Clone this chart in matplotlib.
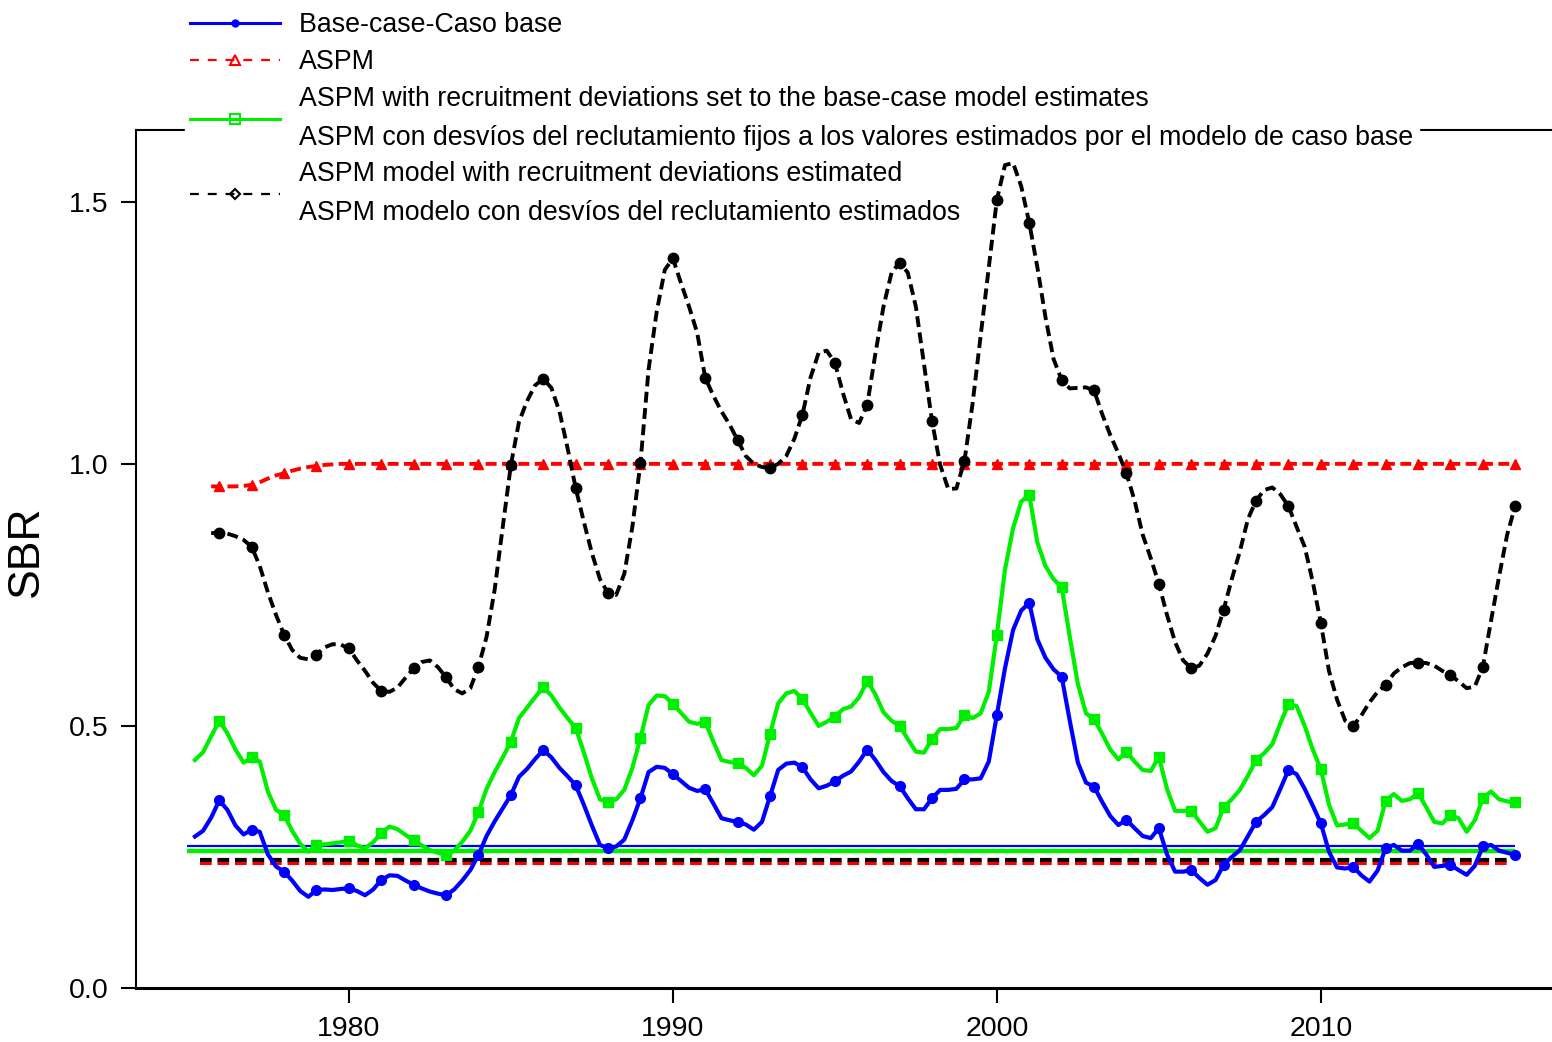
import numpy as np
import matplotlib
matplotlib.use("Agg")
import matplotlib.pyplot as plt
from matplotlib.lines import Line2D

plt.rcParams["font.family"] = ["Liberation Sans", "DejaVu Sans"]

# quarterly series, one row per year (Y.00, Y.25, Y.50, Y.75)
base_case = [
    0.289, 0.300, 0.325,                 # 1975 (from .25)
    0.358, 0.340, 0.310, 0.293,          # 1976
    0.302, 0.298, 0.255, 0.232,          # 1977
    0.222, 0.205, 0.185, 0.174,          # 1978
    0.187, 0.188, 0.187, 0.189,          # 1979
    0.190, 0.185, 0.177, 0.188,          # 1980
    0.206, 0.215, 0.214, 0.205,          # 1981
    0.197, 0.190, 0.184, 0.180,          # 1982
    0.177, 0.188, 0.205, 0.225,          # 1983
    0.254, 0.290, 0.318, 0.343,          # 1984
    0.368, 0.403, 0.418, 0.437,          # 1985
    0.454, 0.440, 0.420, 0.404,          # 1986
    0.387, 0.350, 0.310, 0.273,          # 1987
    0.267, 0.270, 0.283, 0.320,          # 1988
    0.362, 0.412, 0.422, 0.420,          # 1989
    0.408, 0.395, 0.382, 0.376,          # 1990
    0.379, 0.352, 0.324, 0.320,          # 1991
    0.317, 0.312, 0.302, 0.317,          # 1992
    0.366, 0.416, 0.428, 0.430,          # 1993
    0.421, 0.398, 0.381, 0.386,          # 1994
    0.394, 0.405, 0.413, 0.432,          # 1995
    0.455, 0.435, 0.412, 0.395,          # 1996
    0.385, 0.362, 0.341, 0.341,          # 1997
    0.362, 0.378, 0.378, 0.380,          # 1998
    0.398, 0.398, 0.400, 0.432,          # 1999
    0.521, 0.610, 0.683, 0.720,          # 2000
    0.735, 0.665, 0.630, 0.608,          # 2001
    0.594, 0.510, 0.430, 0.392,          # 2002
    0.384, 0.355, 0.328, 0.311,          # 2003
    0.321, 0.305, 0.290, 0.286,          # 2004
    0.305, 0.255, 0.222, 0.222,          # 2005
    0.225, 0.210, 0.197, 0.206,          # 2006
    0.235, 0.250, 0.263, 0.290,          # 2007
    0.317, 0.330, 0.345, 0.380,          # 2008
    0.416, 0.408, 0.380, 0.348,          # 2009
    0.314, 0.260, 0.230, 0.228,          # 2010
    0.231, 0.215, 0.203, 0.224,          # 2011
    0.267, 0.273, 0.262, 0.262,          # 2012
    0.275, 0.255, 0.231, 0.233,          # 2013
    0.235, 0.225, 0.216, 0.233,          # 2014
    0.270, 0.273, 0.262, 0.258,          # 2015
    0.254,                               # 2016
]

aspm_fixed_dev = [
    0.435, 0.450, 0.480,                 # 1975 (from .25)
    0.510, 0.486, 0.455, 0.430,          # 1976
    0.440, 0.432, 0.375, 0.340,          # 1977
    0.330, 0.300, 0.275, 0.260,          # 1978
    0.273, 0.274, 0.276, 0.278,          # 1979
    0.281, 0.272, 0.267, 0.278,          # 1980
    0.296, 0.308, 0.303, 0.292,          # 1981
    0.282, 0.272, 0.263, 0.258,          # 1982
    0.254, 0.262, 0.279, 0.300,          # 1983
    0.336, 0.380, 0.412, 0.440,          # 1984
    0.470, 0.515, 0.535, 0.555,          # 1985
    0.574, 0.558, 0.535, 0.515,          # 1986
    0.496, 0.450, 0.400, 0.360,          # 1987
    0.354, 0.360, 0.378, 0.420,          # 1988
    0.477, 0.540, 0.558, 0.557,          # 1989
    0.542, 0.525, 0.508, 0.504,          # 1990
    0.508, 0.470, 0.435, 0.431,          # 1991
    0.429, 0.420, 0.406, 0.424,          # 1992
    0.485, 0.543, 0.562, 0.567,          # 1993
    0.551, 0.525, 0.500, 0.508,          # 1994
    0.518, 0.532, 0.537, 0.555,          # 1995
    0.586, 0.560, 0.526, 0.510,          # 1996
    0.500, 0.475, 0.451, 0.449,          # 1997
    0.475, 0.494, 0.494, 0.496,          # 1998
    0.521, 0.515, 0.524, 0.565,          # 1999
    0.674, 0.798, 0.877, 0.928,          # 2000
    0.941, 0.850, 0.805, 0.780,          # 2001
    0.765, 0.670, 0.580, 0.524,          # 2002
    0.513, 0.485, 0.455, 0.436,          # 2003
    0.451, 0.432, 0.416, 0.414,          # 2004
    0.441, 0.380, 0.338, 0.338,          # 2005
    0.338, 0.318, 0.298, 0.305,          # 2006
    0.345, 0.360, 0.378, 0.405,          # 2007
    0.435, 0.448, 0.465, 0.505,          # 2008
    0.542, 0.538, 0.500, 0.455,          # 2009
    0.417, 0.350, 0.310, 0.312,          # 2010
    0.314, 0.300, 0.286, 0.300,          # 2011
    0.357, 0.370, 0.357, 0.360,          # 2012
    0.372, 0.345, 0.317, 0.314,          # 2013
    0.330, 0.324, 0.298, 0.320,          # 2014
    0.362, 0.375, 0.360, 0.356,          # 2015
    0.354,                               # 2016
]

aspm = [
    0.957,                               # 1975 (from .75)
    0.957, 0.957, 0.957, 0.958,          # 1976
    0.960, 0.965, 0.972, 0.978,          # 1977
    0.982, 0.987, 0.991, 0.994,          # 1978
    0.996, 0.998, 0.999, 1.000,          # 1979
    1.000, 1.000, 1.000, 1.000,          # 1980
    1.000, 1.000, 1.000, 1.000,          # 1981
    1.000, 1.000, 1.000, 1.000,          # 1982
    1.000, 1.000, 1.000, 1.000,          # 1983
    1.000, 1.000, 1.000, 1.000,          # 1984
    1.000, 1.000, 1.000, 1.000,          # 1985
    1.000, 1.000, 1.000, 1.000,          # 1986
    1.000, 1.000, 1.000, 1.000,          # 1987
    1.000, 1.000, 1.000, 1.000,          # 1988
    1.000, 1.000, 1.000, 1.000,          # 1989
    1.000, 1.000, 1.000, 1.000,          # 1990
    1.000, 1.000, 1.000, 1.000,          # 1991
    1.000, 1.000, 1.000, 1.000,          # 1992
    1.000, 1.000, 1.000, 1.000,          # 1993
    1.000, 1.000, 1.000, 1.000,          # 1994
    1.000, 1.000, 1.000, 1.000,          # 1995
    1.000, 1.000, 1.000, 1.000,          # 1996
    1.000, 1.000, 1.000, 1.000,          # 1997
    1.000, 1.000, 1.000, 1.000,          # 1998
    1.000, 1.000, 1.000, 1.000,          # 1999
    1.000, 1.000, 1.000, 1.000,          # 2000
    1.000, 1.000, 1.000, 1.000,          # 2001
    1.000, 1.000, 1.000, 1.000,          # 2002
    1.000, 1.000, 1.000, 1.000,          # 2003
    1.000, 1.000, 1.000, 1.000,          # 2004
    1.000, 1.000, 1.000, 1.000,          # 2005
    1.000, 1.000, 1.000, 1.000,          # 2006
    1.000, 1.000, 1.000, 1.000,          # 2007
    1.000, 1.000, 1.000, 1.000,          # 2008
    1.000, 1.000, 1.000, 1.000,          # 2009
    1.000, 1.000, 1.000, 1.000,          # 2010
    1.000, 1.000, 1.000, 1.000,          # 2011
    1.000, 1.000, 1.000, 1.000,          # 2012
    1.000, 1.000, 1.000, 1.000,          # 2013
    1.000, 1.000, 1.000, 1.000,          # 2014
    1.000, 1.000, 1.000, 1.000,          # 2015
    1.000,                               # 2016
]

aspm_est_dev = [
    0.868,                               # 1975 (from .75)
    0.868, 0.867, 0.862, 0.855,          # 1976
    0.842, 0.805, 0.755, 0.712,          # 1977
    0.674, 0.645, 0.630, 0.627,          # 1978
    0.636, 0.650, 0.656, 0.655,          # 1979
    0.648, 0.625, 0.605, 0.582,          # 1980
    0.567, 0.565, 0.573, 0.592,          # 1981
    0.610, 0.622, 0.625, 0.612,          # 1982
    0.593, 0.570, 0.562, 0.572,          # 1983
    0.613, 0.670, 0.760, 0.880,          # 1984
    0.998, 1.080, 1.120, 1.150,          # 1985
    1.162, 1.145, 1.100, 1.030,          # 1986
    0.954, 0.890, 0.830, 0.780,          # 1987
    0.753, 0.750, 0.790, 0.880,          # 1988
    1.002, 1.180, 1.290, 1.370,          # 1989
    1.392, 1.345, 1.300, 1.250,          # 1990
    1.164, 1.130, 1.100, 1.075,          # 1991
    1.045, 1.015, 1.000, 0.994,          # 1992
    0.992, 1.000, 1.015, 1.048,          # 1993
    1.094, 1.165, 1.212, 1.216,          # 1994
    1.193, 1.135, 1.085, 1.078,          # 1995
    1.113, 1.210, 1.300, 1.365,          # 1996
    1.384, 1.365, 1.300, 1.190,          # 1997
    1.081, 0.998, 0.952, 0.953,          # 1998
    1.006, 1.115, 1.245, 1.375,          # 1999
    1.504, 1.570, 1.574, 1.530,          # 2000
    1.460, 1.375, 1.280, 1.200,          # 2001
    1.160, 1.144, 1.145, 1.146,          # 2002
    1.140, 1.095, 1.055, 1.020,          # 2003
    0.982, 0.930, 0.865, 0.820,          # 2004
    0.771, 0.712, 0.660, 0.625,          # 2005
    0.610, 0.615, 0.638, 0.672,          # 2006
    0.722, 0.780, 0.833, 0.895,          # 2007
    0.930, 0.950, 0.955, 0.942,          # 2008
    0.919, 0.880, 0.842, 0.775,          # 2009
    0.696, 0.605, 0.550, 0.510,          # 2010
    0.500, 0.520, 0.545, 0.565,          # 2011
    0.578, 0.600, 0.612, 0.620,          # 2012
    0.621, 0.620, 0.615, 0.605,          # 2013
    0.597, 0.585, 0.572, 0.575,          # 2014
    0.613, 0.700, 0.785, 0.865,          # 2015
    0.920,                               # 2016
]

# reference levels (SBR at MSY) for each model
ref_base = 0.270
ref_fixed_dev = 0.262
ref_aspm = 0.239
ref_est_dev = 0.244

labels = [
    "Base-case-Caso base",
    "ASPM",
    "ASPM with recruitment deviations set to the base-case model estimates\n"
    "ASPM con desvíos del reclutamiento fijos a los valores estimados por el modelo de caso base",
    "ASPM model with recruitment deviations estimated\n"
    "ASPM modelo con desvíos del reclutamiento estimados",
]

t_base = 1975.25 + 0.25 * np.arange(len(base_case))
t_aspm = 1975.75 + 0.25 * np.arange(len(aspm))

fig = plt.figure(figsize=(15.52, 10.42), dpi=100)
ax = fig.add_axes([136 / 1552, 54 / 1042, 1443 / 1552, 858 / 1042])

dash = (2.8, 1.4)

# reference lines
ax.hlines(ref_fixed_dev, 1975.0, 2016.0, color="#00ee00", lw=3.2, zorder=2)
ax.hlines(ref_base, 1975.0, 2016.0, color="blue", lw=1.6, zorder=2.1)
ax.hlines(ref_aspm, 1975.4, 2015.8, color="red", lw=3.0, linestyles=[(0, dash)], zorder=2)
ax.hlines(ref_est_dev, 1975.4, 2015.8, color="black", lw=3.0, linestyles=[(0, dash)], zorder=2.1)

ax.plot(t_base, base_case, color="blue", lw=3.0, marker="o", ms=7,
        markevery=(3, 4), zorder=3)
ax.plot(t_aspm, aspm, color="red", lw=2.8, dashes=dash, marker="^", ms=7.5,
        markevery=(1, 4), zorder=3)
ax.plot(t_base, aspm_fixed_dev, color="#00ee00", lw=3.0, marker="s", ms=6.5,
        markevery=(3, 4), zorder=3)
ax.plot(t_aspm, aspm_est_dev, color="black", lw=2.8, dashes=dash, marker="o", ms=7.5,
        markevery=(1, 4), zorder=3.1)

ax.set_xlim(1973.43, 1973.43 + 1443 / 32.4)
ax.set_ylim(0, 1.637)
ax.set_xticks([1980, 1990, 2000, 2010])
ax.set_yticks([0.0, 0.5, 1.0, 1.5])
ax.set_yticklabels(["0.0", "0.5", "1.0", "1.5"])
ax.tick_params(axis="x", labelsize=20.5, length=11, width=1.5, pad=9)
ax.tick_params(axis="y", labelsize=20.5, length=11, width=1.5, pad=9)
ax.spines["right"].set_visible(False)
ax.spines["left"].set_linewidth(1.5)
ax.spines["top"].set_linewidth(1.5)
ax.spines["bottom"].set_linewidth(2.2)
ax.set_ylabel("SBR", fontsize=32)
ax.yaxis.set_label_coords(-0.0617, 0.509)

handles = [
    Line2D([], [], color="blue", lw=2.2, marker="o", ms=5),
    Line2D([], [], color="red", lw=1.6, dashes=(4, 4), marker="^", ms=7,
           markerfacecolor="none", markeredgewidth=1.5),
    Line2D([], [], color="#00ee00", lw=2.2, marker="s", ms=7,
           markerfacecolor="none", markeredgewidth=1.5),
    Line2D([], [], color="black", lw=1.6, dashes=(4, 4), marker="D", ms=5,
           markerfacecolor="none", markeredgewidth=1.5),
]
leg = ax.legend(handles, labels, loc="upper left",
                bbox_to_anchor=(185 / 1552, 1 - 7 / 1042),
                bbox_transform=fig.transFigure, fontsize=19.3,
                frameon=True, fancybox=False, framealpha=1,
                facecolor="white", edgecolor="white",
                borderpad=0.2, borderaxespad=0, handlelength=3.36,
                handletextpad=0.7, labelspacing=0.40)
for txt in leg.get_texts():
    txt.set_linespacing(1.64)
# legend box hides the top spine, but the curves are drawn over it
leg.set_zorder(2.6)

fig.savefig("out.png", dpi=100)
